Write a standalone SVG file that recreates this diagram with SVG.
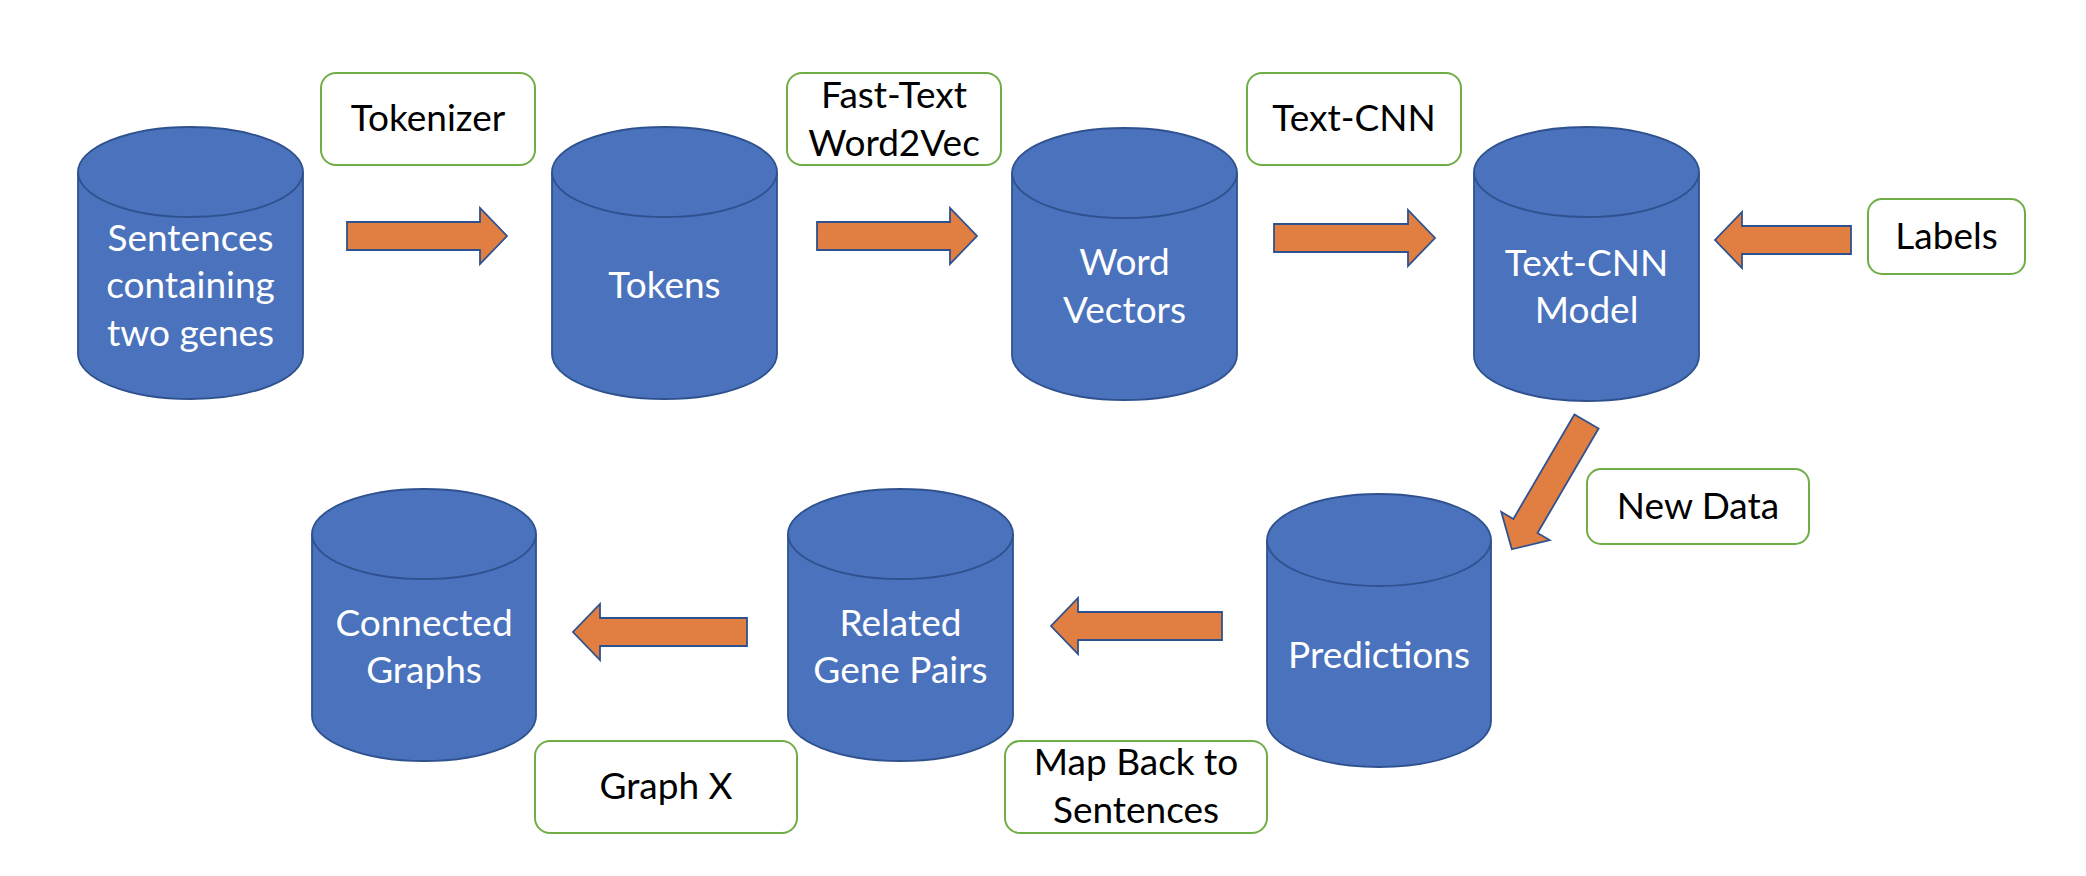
<svg xmlns="http://www.w3.org/2000/svg" width="2086" height="876" viewBox="0 0 2086 876">
<style>
.cyl{fill:#4A72BD;stroke:#2F528F;stroke-width:1.8}
.rim{fill:none;stroke:#2F528F;stroke-width:1.8}
.ct{fill:#FFFFFF;font-family:Lato,"Open Sans","Liberation Sans",sans-serif;font-size:37px;text-anchor:middle}
.box{fill:#FFFFFF;stroke:#70AD47;stroke-width:2}
.bt{fill:#000000;font-family:Lato,"Open Sans","Liberation Sans",sans-serif;font-size:37px;text-anchor:middle}
.arr{fill:#E07F41;stroke:#2F528F;stroke-width:1.8;stroke-linejoin:miter}
</style>
<rect width="2086" height="876" fill="#FFFFFF"/>
<g id="connectors">
<path class="arr" d="M347,222 H480 V208 L507,236 L480,264 V250 H347 Z"/>
<path class="arr" d="M817,222 H950 V208 L977,236 L950,264 V250 H817 Z"/>
<path class="arr" d="M1274,224 H1408 V210 L1435,238 L1408,266 V252 H1274 Z"/>
<path class="arr" d="M1851,226 H1742 V212 L1715,240 L1742,268 V254 H1851 Z"/>
<path class="arr" transform="translate(1586.5,421.5) rotate(120.3)" d="M0,-14 H121 V-28 L148,0 L121,28 V14 H0 Z"/>
<path class="arr" d="M1222,612 H1078 V598 L1051,626 L1078,654 V640 H1222 Z"/>
<path class="arr" d="M747,618 H600 V604 L573,632 L600,660 V646 H747 Z"/>
</g>
<g id="sentences">
<path class="cyl" d="M78,172 A112.5,45 0 0 1 303,172 V354 A112.5,45 0 0 1 78,354 Z"/>
<path class="rim" d="M78,172 A112.5,45 0 0 0 303,172"/>
<text class="ct" x="190.5" y="251">Sentences</text>
<text class="ct" x="190.5" y="298">containing</text>
<text class="ct" x="190.5" y="346">two genes</text>
</g>
<g id="tokens">
<path class="cyl" d="M552,172 A112.5,45 0 0 1 777,172 V354 A112.5,45 0 0 1 552,354 Z"/>
<path class="rim" d="M552,172 A112.5,45 0 0 0 777,172"/>
<text class="ct" x="664.5" y="298">Tokens</text>
</g>
<g id="word-vectors">
<path class="cyl" d="M1012,173 A112.5,45 0 0 1 1237,173 V355 A112.5,45 0 0 1 1012,355 Z"/>
<path class="rim" d="M1012,173 A112.5,45 0 0 0 1237,173"/>
<text class="ct" x="1124.5" y="275">Word</text>
<text class="ct" x="1124.5" y="323">Vectors</text>
</g>
<g id="textcnn-model">
<path class="cyl" d="M1474,172 A112.5,45 0 0 1 1699,172 V356 A112.5,45 0 0 1 1474,356 Z"/>
<path class="rim" d="M1474,172 A112.5,45 0 0 0 1699,172"/>
<text class="ct" x="1586.5" y="276">Text-CNN</text>
<text class="ct" x="1586.5" y="323">Model</text>
</g>
<g id="predictions">
<path class="cyl" d="M1267,540 A112,46 0 0 1 1491,540 V721 A112,46 0 0 1 1267,721 Z"/>
<path class="rim" d="M1267,540 A112,46 0 0 0 1491,540"/>
<text class="ct" x="1379" y="668">Predictions</text>
</g>
<g id="related-gene-pairs">
<path class="cyl" d="M788,534 A112.5,45 0 0 1 1013,534 V716 A112.5,45 0 0 1 788,716 Z"/>
<path class="rim" d="M788,534 A112.5,45 0 0 0 1013,534"/>
<text class="ct" x="900.5" y="636">Related</text>
<text class="ct" x="900.5" y="683">Gene Pairs</text>
</g>
<g id="connected-graphs">
<path class="cyl" d="M312,534 A112,45 0 0 1 536,534 V716 A112,45 0 0 1 312,716 Z"/>
<path class="rim" d="M312,534 A112,45 0 0 0 536,534"/>
<text class="ct" x="424" y="636">Connected</text>
<text class="ct" x="424" y="683">Graphs</text>
</g>
<g id="tokenizer">
<rect class="box" x="321" y="73" width="214" height="92" rx="15"/>
<text class="bt" x="428" y="131">Tokenizer</text>
</g>
<g id="fasttext-word2vec">
<rect class="box" x="787" y="73" width="214" height="92" rx="15"/>
<text class="bt" x="894" y="108">Fast-Text</text>
<text class="bt" x="894" y="156">Word2Vec</text>
</g>
<g id="textcnn">
<rect class="box" x="1247" y="73" width="214" height="92" rx="15"/>
<text class="bt" x="1354" y="131">Text-CNN</text>
</g>
<g id="labels">
<rect class="box" x="1868" y="199" width="157" height="75" rx="14"/>
<text class="bt" x="1946.5" y="249">Labels</text>
</g>
<g id="new-data">
<rect class="box" x="1587" y="469" width="222" height="75" rx="14"/>
<text class="bt" x="1698" y="519">New Data</text>
</g>
<g id="map-back">
<rect class="box" x="1005" y="741" width="262" height="92" rx="15"/>
<text class="bt" x="1136" y="775">Map Back to</text>
<text class="bt" x="1136" y="823">Sentences</text>
</g>
<g id="graph-x">
<rect class="box" x="535" y="741" width="262" height="92" rx="15"/>
<text class="bt" x="666" y="799">Graph X</text>
</g>
</svg>
